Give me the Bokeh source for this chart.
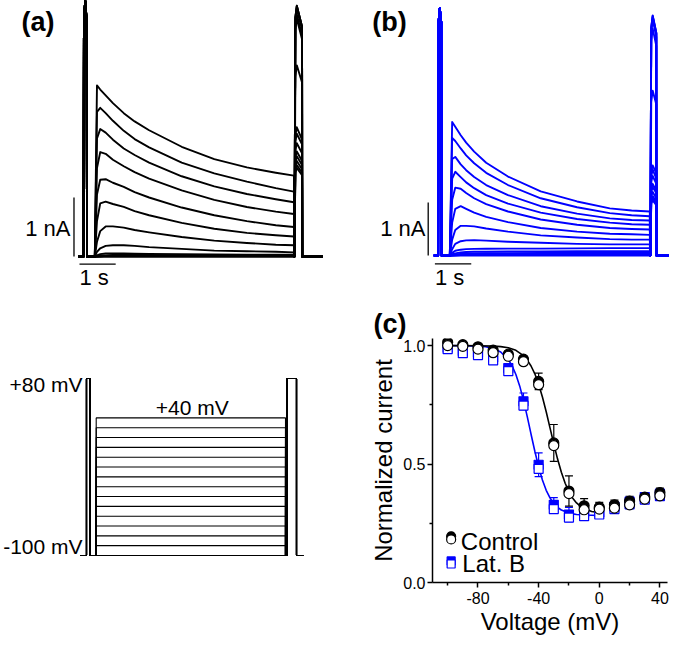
from bokeh.plotting import figure
from bokeh.layouts import row, column
from bokeh.models import (Range1d, Label, Whisker, ColumnDataSource, FixedTicker,
                          PrintfTickFormatter, TeeHead)
from bokeh.embed import file_html
from bokeh.resources import INLINE

FONT = "Liberation Sans"
BLUE = "#0000ff"

# ---------------- data ----------------
step_mV = [-100, -90, -80, -70, -60, -50, -40, -30, -20, -10, 0, 10, 20, 30, 40]

# panel (a): control currents (nA) during the test step, time in s
t_step_a = [0.0, 0.06, 0.15, 0.3, 0.5, 0.8, 1.1, 1.5, 2.4, 3.3, 4.2, 5.0, 5.5]
i_step_a = [
    [0, 0.00, 0.00, 0.00, 0.00, 0.00, 0.00, 0.00, 0.00, 0.00, 0.00, 0.00, 0.00],
    [0, 0.00, 0.00, 0.00, 0.00, 0.00, 0.00, 0.00, 0.00, 0.00, 0.00, 0.00, 0.00],
    [0, 0.00, 0.00, 0.01, 0.01, 0.01, 0.01, 0.01, 0.01, 0.01, 0.01, 0.01, 0.01],
    [0, 0.00, 0.01, 0.01, 0.01, 0.01, 0.01, 0.01, 0.01, 0.01, 0.01, 0.01, 0.01],
    [0, 0.01, 0.01, 0.01, 0.015, 0.02, 0.02, 0.02, 0.02, 0.015, 0.015, 0.015, 0.015],
    [0, 0.01, 0.02, 0.02, 0.025, 0.025, 0.025, 0.025, 0.02, 0.02, 0.02, 0.02, 0.02],
    [0, 0.02, 0.04, 0.05, 0.05, 0.05, 0.048, 0.045, 0.04, 0.035, 0.03, 0.03, 0.03],
    [0, 0.08, 0.14, 0.18, 0.19, 0.19, 0.18, 0.16, 0.13, 0.10, 0.09, 0.08, 0.07],
    [0, 0.25, 0.43, 0.51, 0.51, 0.49, 0.45, 0.41, 0.33, 0.27, 0.23, 0.20, 0.19],
    [0, 0.60, 0.90, 0.93, 0.89, 0.84, 0.77, 0.70, 0.57, 0.47, 0.40, 0.36, 0.34],
    [0, 1.05, 1.30, 1.31, 1.25, 1.18, 1.09, 1.00, 0.83, 0.70, 0.60, 0.53, 0.50],
    [0, 1.50, 1.77, 1.74, 1.64, 1.53, 1.43, 1.32, 1.12, 0.96, 0.84, 0.76, 0.72],
    [0, 2.00, 2.16, 2.10, 1.98, 1.83, 1.72, 1.59, 1.36, 1.19, 1.06, 0.97, 0.92],
    [0, 2.45, 2.52, 2.43, 2.30, 2.13, 1.99, 1.85, 1.59, 1.41, 1.27, 1.16, 1.10],
    [0, 2.90, 2.83, 2.73, 2.60, 2.43, 2.29, 2.14, 1.86, 1.65, 1.51, 1.42, 1.37],
]
pre_t_a = [-0.31, -0.30, -0.265, -0.225, -0.215]
pre_i_a = [0, 4.0, 4.35, 4.0, 0]
t_tail_a = [5.515, 5.54, 5.58, 5.725, 5.73]
tail_start_a = [4.05, 4.05, 4.04, 4.00, 3.90, 3.84, 3.05, 2.05, 1.60, 1.45, 1.42, 1.52, 1.68, 1.80, 1.95]
tail_peak_a = [4.25, 4.25, 4.24, 4.20, 4.10, 4.03, 3.24, 2.19, 1.70, 1.55, 1.50, 1.62, 1.78, 1.92, 2.08]
tail_end_a = [3.90, 3.90, 3.88, 3.85, 3.75, 3.68, 2.95, 1.98, 1.55, 1.42, 1.38, 1.48, 1.62, 1.75, 1.90]
base_a = [-0.46, 6.29]

# panel (b): Lat. B currents (nA)
t_step_b = [0.0, 0.065, 0.15, 0.3, 0.45, 0.67, 1.0, 1.6, 2.5, 3.5, 4.4, 5.0, 5.5]
i_step_b = [
    [0, 0.00, 0.00, 0.00, 0.00, 0.00, 0.00, 0.00, 0.00, 0.00, 0.00, 0.00, 0.00],
    [0, 0.00, 0.00, 0.01, 0.01, 0.01, 0.01, 0.01, 0.01, 0.01, 0.01, 0.01, 0.01],
    [0, 0.00, 0.01, 0.01, 0.012, 0.015, 0.018, 0.02, 0.02, 0.02, 0.02, 0.02, 0.02],
    [0, 0.01, 0.01, 0.02, 0.022, 0.025, 0.028, 0.03, 0.03, 0.035, 0.035, 0.035, 0.035],
    [0, 0.01, 0.02, 0.03, 0.035, 0.04, 0.042, 0.045, 0.05, 0.05, 0.05, 0.05, 0.05],
    [0, 0.02, 0.04, 0.06, 0.065, 0.07, 0.072, 0.075, 0.075, 0.08, 0.08, 0.08, 0.08],
    [0, 0.05, 0.09, 0.11, 0.12, 0.125, 0.128, 0.13, 0.13, 0.135, 0.14, 0.14, 0.14],
    [0, 0.12, 0.22, 0.27, 0.285, 0.29, 0.28, 0.26, 0.24, 0.22, 0.21, 0.21, 0.21],
    [0, 0.30, 0.48, 0.56, 0.56, 0.55, 0.51, 0.45, 0.38, 0.34, 0.31, 0.30, 0.30],
    [0, 0.62, 0.88, 0.93, 0.88, 0.81, 0.73, 0.63, 0.52, 0.45, 0.41, 0.40, 0.39],
    [0, 1.05, 1.28, 1.26, 1.18, 1.08, 0.97, 0.83, 0.68, 0.58, 0.52, 0.50, 0.49],
    [0, 1.45, 1.58, 1.48, 1.38, 1.27, 1.14, 0.98, 0.81, 0.69, 0.62, 0.59, 0.58],
    [0, 1.82, 1.86, 1.72, 1.61, 1.48, 1.33, 1.14, 0.93, 0.79, 0.70, 0.67, 0.66],
    [0, 2.22, 2.16, 2.02, 1.89, 1.74, 1.56, 1.33, 1.08, 0.91, 0.80, 0.76, 0.74],
    [0, 2.52, 2.43, 2.27, 2.13, 1.96, 1.75, 1.49, 1.21, 1.02, 0.89, 0.85, 0.83],
]
pre_t_b = [-0.32, -0.31, -0.275, -0.235, -0.228]
pre_i_b = [0, 4.4, 4.67, 4.4, 0]
t_tail_b = [5.515, 5.54, 5.58, 5.68, 5.685]
tail_start_b = [4.30, 4.30, 4.28, 4.22, 4.05, 2.90, 1.58, 1.20, 1.05, 0.98, 1.00, 1.12, 1.26, 1.40, 1.50]
tail_peak_b = [4.53, 4.52, 4.50, 4.45, 4.28, 3.11, 1.70, 1.29, 1.12, 1.04, 1.08, 1.20, 1.35, 1.50, 1.62]
tail_end_b = [4.20, 4.20, 4.18, 4.12, 3.95, 2.85, 1.55, 1.18, 1.02, 0.95, 0.98, 1.08, 1.22, 1.35, 1.45]
base_b = [-0.44, 6.21]

# voltage protocol (times in s, voltages in mV)
proto_t = [-0.456, -0.282, -0.282, -0.186, -0.186, 0.0, 0.0, 5.503, 5.503, 5.55, 5.55, 5.823, 5.823, 6.017]
hold_mV = -100
pulse_mV = 80

# panel (c): normalized current vs voltage
ctrl_fill = [1.014, 1.004, 0.995, 0.981, 0.964, 0.943, 0.849, 0.589, 0.386, 0.324, 0.318, 0.328, 0.344, 0.361, 0.380]
ctrl_open = [1.000, 0.997, 0.985, 0.970, 0.955, 0.932, 0.835, 0.578, 0.375, 0.307, 0.310, 0.314, 0.328, 0.352, 0.366]
ctrl_err = [0.008, 0.008, 0.012, 0.015, 0.012, 0.012, 0.035, 0.078, 0.064, 0.030, 0.020, 0.020, 0.020, 0.015, 0.018]
latb_fill = [0.991, 0.977, 0.970, 0.950, 0.905, 0.765, 0.497, 0.328, 0.287, 0.294, 0.296, 0.320, 0.341, 0.361, 0.375]
latb_open = [0.985, 0.968, 0.960, 0.938, 0.892, 0.747, 0.480, 0.310, 0.274, 0.280, 0.287, 0.310, 0.330, 0.350, 0.365]
latb_err = [0.010, 0.012, 0.020, 0.025, 0.012, 0.035, 0.050, 0.030, 0.030, 0.025, 0.020, 0.018, 0.018, 0.015, 0.015]

fit_v_ctrl = [-100, -90, -80, -70, -65, -60, -55, -50, -47.5, -45, -42.5, -40, -37.5, -35, -32.5,
              -30, -27.5, -25, -22.5, -20, -17.5, -15, -12.5, -10, -5, 0]
fit_ctrl = [1.0, 1.0, 0.9996, 0.998, 0.9956, 0.9906, 0.980, 0.958, 0.939, 0.914, 0.881, 0.837, 0.783,
            0.721, 0.653, 0.585, 0.521, 0.465, 0.419, 0.383, 0.356, 0.336, 0.322, 0.312, 0.300, 0.295]
fit_v_latb = [-100, -90, -80, -75, -70, -65, -60, -57.5, -55, -52.5, -50, -47.5, -45, -42.5, -40,
              -37.5, -35, -32.5, -30, -27.5, -25, -20, -15, -10, -5, 0]
fit_latb = [1.0, 0.9996, 0.9977, 0.995, 0.988, 0.973, 0.941, 0.915, 0.878, 0.830, 0.770, 0.700, 0.626,
            0.554, 0.488, 0.433, 0.389, 0.357, 0.333, 0.317, 0.306, 0.293, 0.287, 0.285, 0.284, 0.283]


# ---------------- helpers ----------------
def blank_fig(w, h, xr, yr, top=0, bottom=0):
    p = figure(width=w, height=h, x_range=Range1d(*xr), y_range=Range1d(*yr),
               output_backend="svg", toolbar_location=None, min_border=0,
               min_border_top=top, min_border_bottom=bottom,
               x_axis_type=None, y_axis_type=None)
    p.outline_line_color = None
    p.grid.visible = False
    return p


def label(p, x, y, text, size="21px", align="left", bold=False):
    # y is the vertical centre of the text line
    p.add_layout(Label(x=x, y=y, text=text, text_font=FONT, text_font_size=size,
                       text_align=align, text_baseline="middle",
                       text_font_style="bold" if bold else "normal", text_color="black"))


def draw_traces(p, base, pre_t, pre_i, t_step, i_step, t_tail, ts, tp, te, color):
    for k in range(len(i_step)):
        xs = [base[0]] + pre_t + t_step + t_tail + [base[1]]
        ys = [0] + pre_i + i_step[k] + [0, ts[k], tp[k], te[k], 0] + [0]
        p.line(xs, ys, line_color=color, line_width=1.9, line_join="round")


# ---------------- panel (a) ----------------
fa = blank_fig(340, 290, (-2.605, 6.787), (-0.576, 4.339))
draw_traces(fa, base_a, pre_t_a, pre_i_a, t_step_a, i_step_a, t_tail_a,
            tail_start_a, tail_peak_a, tail_end_a, "black")
fa.segment(x0=[-0.575], y0=[0], x1=[-0.575], y1=[1], line_color="black", line_width=1.3)
fa.segment(x0=[-0.423], y0=[-0.13], x1=[0.577], y1=[-0.13], line_color="black", line_width=1.3)
label(fa, -2.025, 3.973, "(a)", size="27px", bold=True)
label(fa, -0.671, 0.480, "1 nA", size="22px", align="right")
label(fa, -0.423, -0.351, "1 s", size="22px")

# ---------------- panel (b) ----------------
fb = blank_fig(329, 290, (-3.006, 6.042), (-0.660, 4.811))
draw_traces(fb, base_b, pre_t_b, pre_i_b, t_step_b, i_step_b, t_tail_b,
            tail_start_b, tail_peak_b, tail_end_b, BLUE)
fb.segment(x0=[-0.594], y0=[0], x1=[-0.594], y1=[1], line_color="black", line_width=1.3)
fb.segment(x0=[-0.41], y0=[-0.157], x1=[0.59], y1=[-0.157], line_color="black", line_width=1.3)
label(fb, -2.134, 4.404, "(b)", size="27px", bold=True)
label(fb, -0.668, 0.515, "1 nA", size="22px", align="right")
label(fb, -0.41, -0.409, "1 s", size="22px")

# ---------------- voltage protocol ----------------
fp = blank_fig(355, 348, (-2.782, 7.538), (-127.47, 120.75), top=48, bottom=56)
for v in step_mV:
    ys = [hold_mV, hold_mV, pulse_mV, pulse_mV, hold_mV, hold_mV, v, v,
          hold_mV, hold_mV, pulse_mV, pulse_mV, hold_mV, hold_mV]
    fp.line(proto_t, ys, line_color="black", line_width=1.1)
label(fp, -0.398, 74.26, "+80 mV", align="right")
label(fp, -0.398, -90.54, "-100 mV", align="right")
label(fp, 2.79, 50.36, "+40 mV", align="center")

# ---------------- panel (c) ----------------
fc = figure(width=314, height=348, x_range=Range1d(-110, 45), y_range=Range1d(0, 1.03),
            output_backend="svg", toolbar_location=None,
            min_border_left=77, min_border_right=2, min_border_top=48, min_border_bottom=56)
fc.outline_line_color = None
fc.grid.visible = False
fc.title.text = "(c)"
fc.title.text_font = FONT
fc.title.text_font_size = "27px"
fc.title.text_font_style = "bold"
fc.title.text_color = "black"
fc.title.align = "left"
fc.title.offset = -59
fc.title.standoff = 0
fc.xaxis.ticker = FixedTicker(ticks=[-80, -40, 0, 40], minor_ticks=[-100, -60, -20, 20])
fc.yaxis.ticker = FixedTicker(ticks=[0, 0.5, 1.0], minor_ticks=[0.25, 0.75])
fc.xaxis.formatter = PrintfTickFormatter(format="%d")
fc.yaxis.formatter = PrintfTickFormatter(format="%.1f")
for ax in (fc.xaxis, fc.yaxis):
    ax.axis_line_width = 1.5
    ax.axis_line_color = "black"
    ax.major_tick_line_width = 1.5
    ax.minor_tick_line_width = 1.5
    ax.major_tick_line_color = "black"
    ax.minor_tick_line_color = "black"
    ax.major_tick_out = 5
    ax.major_tick_in = 0
    ax.minor_tick_out = 3
    ax.minor_tick_in = 0
    ax.major_label_text_font = FONT
    ax.major_label_text_font_size = "16px"
    ax.major_label_text_color = "black"
    ax.axis_label_text_font = FONT
    ax.axis_label_text_font_size = "24px"
    ax.axis_label_text_font_style = "normal"
    ax.axis_label_text_color = "black"
fc.xaxis.major_label_standoff = 4
fc.yaxis.major_label_standoff = 2
fc.yaxis.axis_label = "Normalized current"
fc.yaxis.axis_label_standoff = 3
fc.xaxis.axis_label = "Voltage (mV)"
fc.xaxis.axis_label_standoff = 1

fc.line(fit_v_latb, fit_latb, line_color=BLUE, line_width=1.6)
fc.line(fit_v_ctrl, fit_ctrl, line_color="black", line_width=1.6)

src_l = ColumnDataSource(dict(v=step_mV,
                              lo=[a - e for a, e in zip(latb_fill, latb_err)],
                              hi=[a + e for a, e in zip(latb_fill, latb_err)]))
src_c = ColumnDataSource(dict(v=step_mV,
                              lo=[a - e for a, e in zip(ctrl_fill, ctrl_err)],
                              hi=[a + e for a, e in zip(ctrl_fill, ctrl_err)]))
fc.add_layout(Whisker(source=src_l, base="v", lower="lo", upper="hi", line_color=BLUE, line_width=1.2,
                      upper_head=TeeHead(size=8, line_color=BLUE, line_width=1.2),
                      lower_head=TeeHead(size=8, line_color=BLUE, line_width=1.2)))
fc.add_layout(Whisker(source=src_c, base="v", lower="lo", upper="hi", line_color="black", line_width=1.2,
                      upper_head=TeeHead(size=8, line_color="black", line_width=1.2),
                      lower_head=TeeHead(size=8, line_color="black", line_width=1.2)))

fc.scatter(step_mV, latb_fill, marker="square", size=9, fill_color=BLUE, line_color=BLUE, line_width=1.2)
fc.scatter(step_mV, latb_open, marker="square", size=9, fill_color="white", line_color=BLUE, line_width=1.2)
fc.scatter(step_mV, ctrl_fill, marker="circle", size=10, fill_color="black", line_color="black", line_width=1.2)
fc.scatter(step_mV, ctrl_open, marker="circle", size=10, fill_color="white", line_color="black", line_width=1.2)

# legend (drawn like the data markers)
fc.scatter([-97.7], [0.195], marker="circle", size=9, fill_color="black", line_color="black", line_width=1.2)
fc.scatter([-97.7], [0.182], marker="circle", size=9, fill_color="white", line_color="black", line_width=1.2)
fc.scatter([-97.7], [0.091], marker="square", size=8, fill_color=BLUE, line_color=BLUE, line_width=1.2)
fc.scatter([-97.7], [0.078], marker="square", size=8, fill_color="white", line_color=BLUE, line_width=1.2)
label(fc, -91.3, 0.173, "Control", size="24px")
label(fc, -90.3, 0.0785, "Lat. B", size="24px")

layout = column(row(fa, fb), row(fp, fc))
open("out.html", "w").write(file_html(layout, INLINE))
